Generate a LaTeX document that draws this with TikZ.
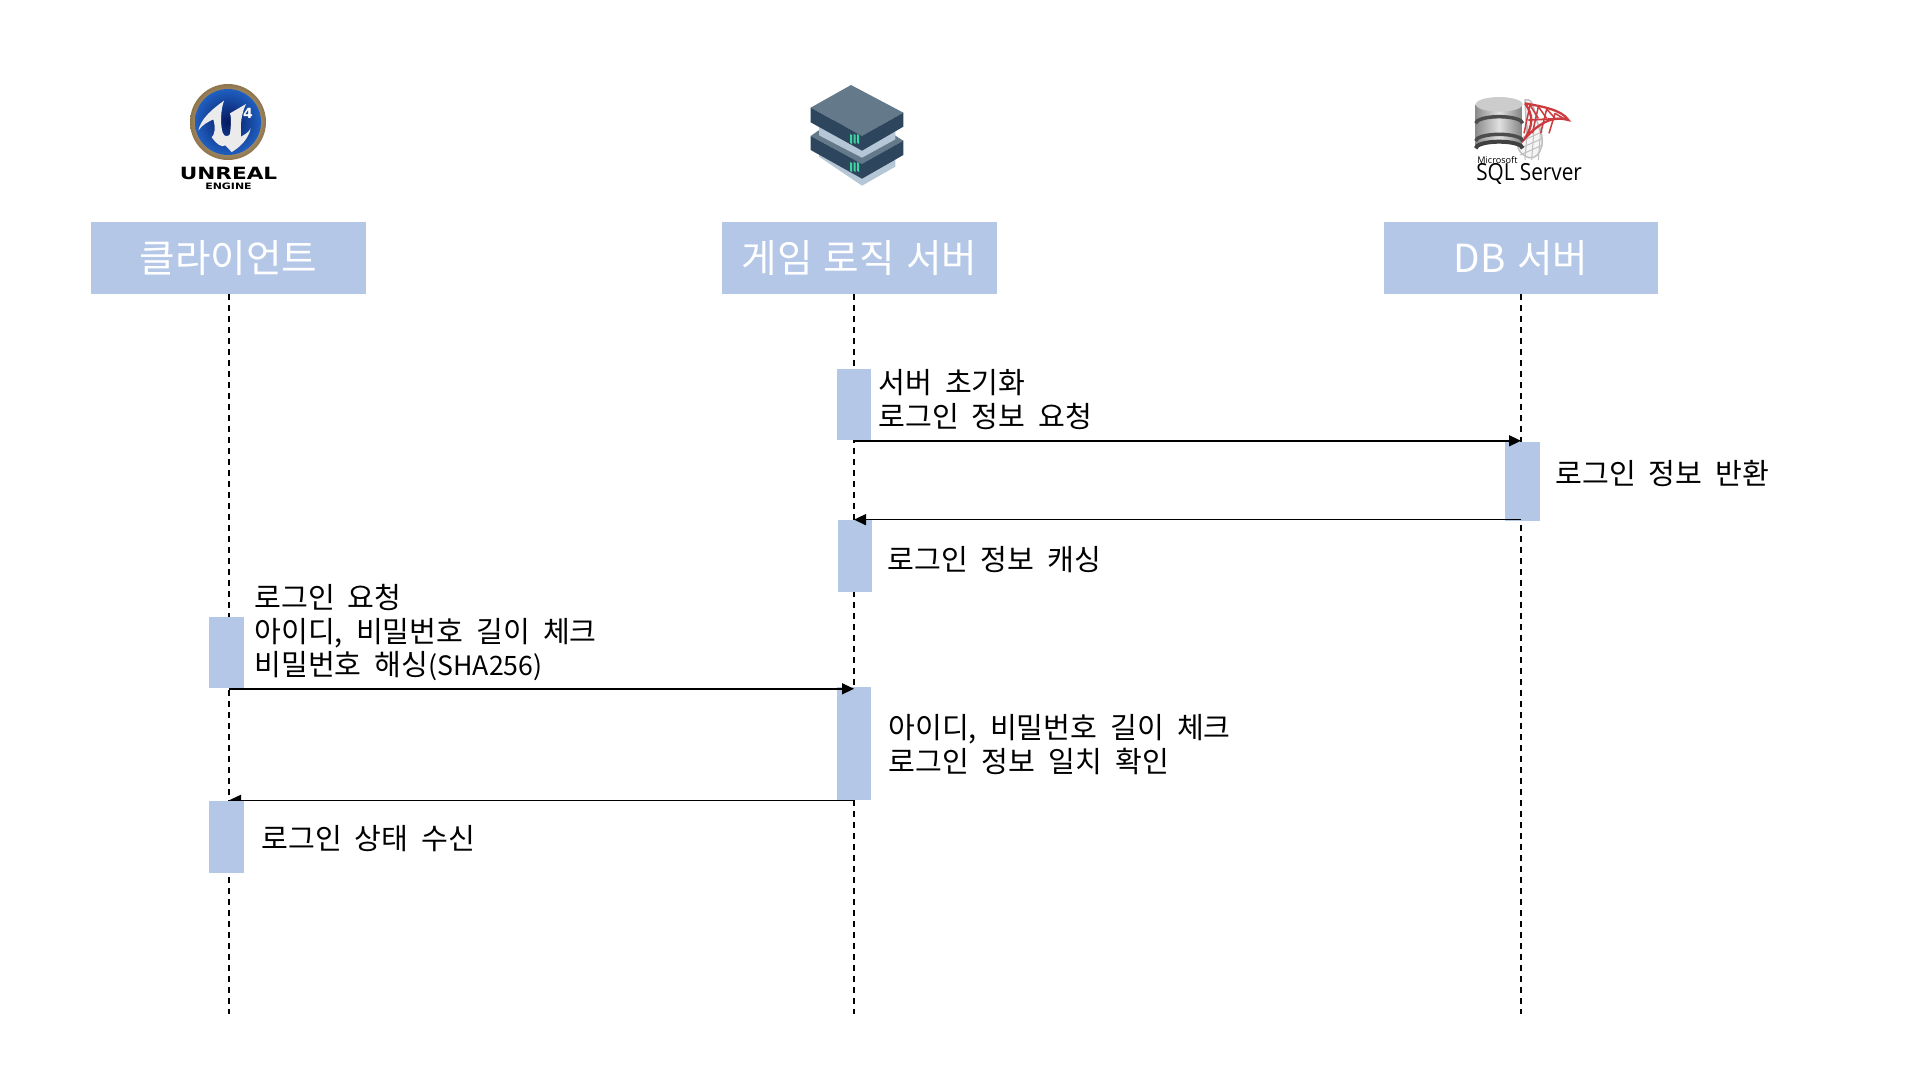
\documentclass[tikz,border=0pt]{standalone}
\usepackage{fontspec}
\setmainfont[WordSpace=2]{Noto Sans CJK KR}
\newfontfamily\headfont[WordSpace=1.3]{Noto Sans CJK KR}
\newfontfamily\logofont{DejaVu Sans}
\newfontfamily\sqlfont{Open Sans}
\usetikzlibrary{arrows.meta}
\definecolor{boxblue}{HTML}{B4C7E7}
\definecolor{srvtop}{HTML}{64798A}
\definecolor{srvside}{HTML}{2E455E}
\definecolor{srvlight}{HTML}{B5C7D6}
\definecolor{srvled}{HTML}{3DD6A0}
\definecolor{ringgold}{HTML}{A88A5A}
\definecolor{ueblue}{HTML}{06175E}
\definecolor{uebright}{HTML}{1F5FC0}
\definecolor{msred}{HTML}{CC3A3E}
\tikzset{
  header/.style={fill=boxblue, text=white, inner sep=0pt, minimum height=1.44cm,
                 minimum width=5.5cm, font=\headfont\fontsize{22}{25}\selectfont},
  actbox/.style={fill=boxblue, inner sep=0pt, minimum width=0.69cm},
  lifeline/.style={line width=0.036cm, dash pattern=on 0.12cm off 0.1cm},
  msg/.style={line width=0.028cm, -{Triangle[length=0.24cm, width=0.22cm]}},
  msgtext/.style={anchor=west, inner sep=0pt, align=left,
                  font=\fontsize{16.6}{19.3}\selectfont},
}
\begin{document}
\begin{tikzpicture}[x=0.02cm, y=-0.02cm]
    \useasboundingbox (0, 0) rectangle (1920, 1080);

    % Headers
    \foreach \name/\x/\label in {cli/228.5/클라이언트, srv/859.5/게임 로직 서버, dbs/1521/DB 서버} {
      \path (\x, 258) node [header] (\name) {\label};
    }

    % Lifelines
    \foreach \name/\x in {cli/229, srv/854, dbs/1521} {
      \path (\x, 294) coordinate (\name top);
      \path (\x, 1014) coordinate (\name end);
      \draw [lifeline] (\name top) -- (\name end);
    }

    % Activation boxes
    \foreach \name/\x/\y/\h in {act1/854/404.7/1.43, act2/1522.5/481.5/1.58, act3/855/556/1.44,
                               act4/226.5/652.7/1.43, act5/854/743.5/2.26} {
      \path (\x, \y) node [actbox, minimum height=\h cm] (\name) {};
    }

    % Messages
    \draw [msg] (act1.south -| srvtop) -- (act1.south -| dbstop);
    \draw [msg] (act3.north -| dbstop) -- (act3.north -| srvtop);
    \draw [msg] (act4.south -| clitop) -- (act4.south -| srvtop);
    \draw [msg] (act5.south -| srvtop) -- (act5.south -| clitop);
    \path (226.5, 837) node [actbox, minimum height=1.44cm] (act6) {};

    % Labels
    \path (878, 399.5) node [msgtext] (txt1) {서버 초기화\\로그인 정보 요청};
    \path (1555, 474) node [msgtext] (txt2) {로그인 정보 반환};
    \path (887, 560) node [msgtext] (txt3) {로그인 정보 캐싱};
    \path (254, 632.5) node [msgtext] (txt4) {로그인 요청\\아이디, 비밀번호 길이 체크\\비밀번호 해싱{\fontsize{15.2}{19.3}\selectfont(SHA256)}};
    \path (888, 745) node [msgtext] (txt5) {아이디, 비밀번호 길이 체크\\로그인 정보 일치 확인};
    \path (261, 839) node [msgtext] (txt6) {로그인 상태 수신};

    % Unreal logo
    \shade [inner color=white!75!ringgold, outer color=ringgold!85!black] (228, 122) circle (38);
    \shade [inner color=ueblue, outer color=uebright] (228, 122) circle (33);
    \begin{scope}[shift={(180, 80)}, scale=1/3]
      \fill [white!92!black] (55, 152) .. controls (62, 115) and (100, 85) .. (132, 62)
        .. controls (122, 90) and (120, 130) .. (128, 158) .. controls (132, 172) and (146, 170) .. (150, 162)
        .. controls (153, 135) and (155, 112) .. (150, 100) -- (198, 72)
        .. controls (185, 100) and (180, 130) .. (183, 170) .. controls (190, 165) and (205, 160) .. (212, 145)
        .. controls (205, 180) and (175, 205) .. (155, 216) -- (136, 196)
        .. controls (125, 205) and (108, 190) .. (95, 172) .. controls (103, 165) and (108, 145) .. (100, 118)
        .. controls (85, 125) and (65, 135) .. (55, 152) -- cycle;
    \end{scope}
    \path (248, 113) node [text=white, inner sep=0pt, font=\logofont\bfseries\fontsize{8}{8}\selectfont] (ue4) {4};
    \path (228.5, 173) node [xscale=1.28, inner sep=0pt, font=\logofont\bfseries\fontsize{9.6}{10}\selectfont] (uename) {UNREAL};
    \path (228.5, 186) node [xscale=1.25, inner sep=0pt, font=\logofont\bfseries\fontsize{5}{6}\selectfont] (ueengine) {ENGINE};

    % Server icon
    \begin{scope}[shift={(740, 60)}, scale=1/3]
      \fill [srvlight] (237, 270) -- (237, 290) -- (366, 377) -- (466, 320) -- (466, 270) -- cycle;
      \fill [srvtop] (333, 143) -- (490, 242) -- (366, 312) -- (212, 228) -- cycle;
      \fill [srvside] (212, 228) -- (366, 312) -- (490, 242) -- (490, 285) -- (366, 356) -- (212, 270) -- cycle;
      \fill [srvlight] (237, 200) -- (237, 226) -- (366, 293) -- (466, 238) -- (466, 200) -- cycle;
      \fill [srvtop] (333, 75) -- (490, 158) -- (366, 228) -- (212, 143) -- cycle;
      \fill [srvside] (212, 143) -- (366, 228) -- (490, 158) -- (490, 200) -- (366, 272) -- (212, 187) -- cycle;
      \foreach \y in {0, 84} {
        \foreach \x in {330, 341, 351} {
          \fill [srvled] (\x, 222+\y) -- (\x+6, 225+\y) -- (\x+6, 252+\y) -- (\x, 248+\y) -- cycle;
        }
      }
    \end{scope}

    % SQL Server logo
    \begin{scope}[shift={(1470, 85)}, scale=1/3]
      % mesh
      \draw [black!25, line width=0.03cm, fill=black!4] (165, 45) .. controls (195, 35) and (190, 90) .. (215, 150)
        .. controls (225, 200) and (190, 245) .. (150, 200) .. controls (130, 170) and (160, 160) .. (170, 150) -- cycle;
      \foreach \y in {170, 190, 210} {
        \draw [black!25, line width=0.02cm] (150, \y) -- (218, \y-30);
      }
      \foreach \x in {165, 185, 205} {
        \draw [black!25, line width=0.02cm] (\x, 225) -- (\x+8, 120);
      }
      \draw [msred, line width=0.045cm] (165, 55) .. controls (220, 65) and (275, 75) .. (295, 105)
        .. controls (260, 95) and (220, 100) .. (165, 160) .. controls (190, 120) and (190, 90) .. (165, 55);
      \foreach \x/\y in {180/60, 205/65, 230/72, 255/85} {
        \draw [msred, line width=0.03cm] (\x, \y) -- (\x-18, 145);
        \draw [msred, line width=0.03cm] (\x, \y) -- (\x+25, 100);
      }
      \draw [msred, line width=0.035cm] (175, 105) -- (285, 100);
      % cylinder
      \shade [left color=black!45, right color=black!50, middle color=black!12]
        (17, 58) -- (17, 190) arc (180:360:70.5 and 20) -- (158, 58) -- cycle;
      \fill [black!20] (87.5, 58) ellipse (70.5 and 22);
      \foreach \y in {115, 168} {
        \draw [black!70, line width=0.07cm] (17, \y) arc (180:360:70.5 and 20);
      }
      \draw [black!75, line width=0.08cm] (17, 190) arc (180:360:70.5 and 20);
    \end{scope}
    \path (1477, 160.5) node [anchor=west, inner sep=0pt, font=\sqlfont\fontsize{5.2}{6}\selectfont] (msname) {Microsoft};
    \path (1476, 174) node [anchor=west, inner sep=0pt, xscale=0.88, font=\sqlfont\fontsize{13.4}{14}\selectfont] (sqlname) {SQL Server};
\end{tikzpicture}
\end{document}
